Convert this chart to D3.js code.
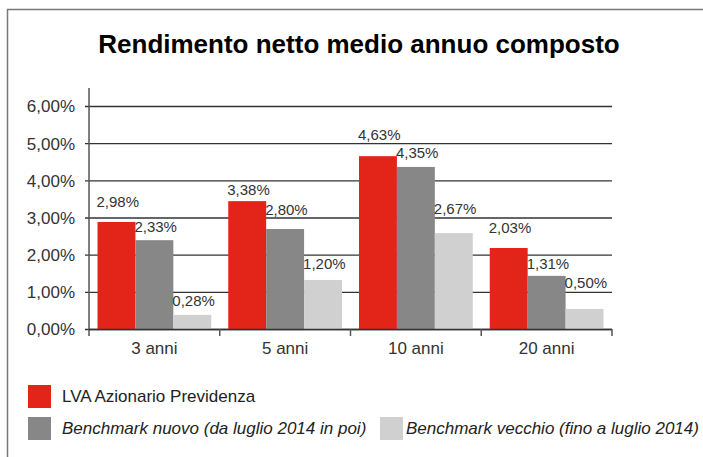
<!DOCTYPE html>
<meta charset="utf-8">
<script src="https://d3js.org/d3.v7.min.js"></script>
<style>
  body { margin: 0; background: #fff; }
  text { font-family: "Liberation Sans", Arial, sans-serif; }
</style>
<div id="chart"></div>
<script>
// categories and series
var categories = ["3 anni", "5 anni", "10 anni", "20 anni"];
var seriesNames = ["LVA Azionario Previdenza", "Benchmark nuovo (da luglio 2014 in poi)", "Benchmark vecchio (fino a luglio 2014)"];
// bar heights as drawn in the picture
var lvaValues = [2.88, 3.44, 4.65, 2.18];
var nuovoValues = [2.39, 2.69, 4.36, 1.43];
var vecchioValues = [0.38, 1.32, 2.58, 0.54];
// printed value labels
var lvaLabels = ["2,98%", "3,38%", "4,63%", "2,03%"];
var nuovoLabels = ["2,33%", "2,80%", "4,35%", "1,31%"];
var vecchioLabels = ["0,28%", "1,20%", "2,67%", "0,50%"];
// y ticks
var yTicks = [0, 1, 2, 3, 4, 5, 6];
var yTickLabels = ["0,00%", "1,00%", "2,00%", "3,00%", "4,00%", "5,00%", "6,00%"];

var colors = ["#e32418", "#878787", "#d0d0d0"];

var W = 703, H = 457;
var svg = d3.select("#chart").append("svg")
    .attr("width", W)
    .attr("height", H);

// outer frame (left and top edges)
svg.append("path")
    .attr("d", "M7.5," + H + "V9.5H" + W)
    .attr("fill", "none")
    .attr("stroke", "#777")
    .attr("stroke-width", 1.5);

// title
svg.append("text")
    .attr("x", 359)
    .attr("y", 53)
    .attr("text-anchor", "middle")
    .style("font-size", "26px")
    .style("font-weight", "bold")
    .attr("fill", "#000")
    .text("Rendimento netto medio annuo composto");

var plotLeft = 89, plotRight = 612, plotTop = 106, plotBottom = 329;

var y = d3.scaleLinear().domain([0, 6]).range([plotBottom, plotTop]);
var x0 = d3.scaleBand().domain(categories).range([plotLeft, plotRight])
    .paddingInner(0.13).paddingOuter(0.065);
var x1 = d3.scaleBand().domain([0, 1, 2]).range([0, x0.bandwidth()]);

// gridlines
svg.append("g").selectAll("line")
  .data(yTicks)
  .enter().append("line")
    .attr("x1", plotLeft - 4)
    .attr("x2", plotRight)
    .attr("y1", function(d) { return y(d) + 0.5; })
    .attr("y2", function(d) { return y(d) + 0.5; })
    .attr("stroke", "#333")
    .attr("stroke-width", 1.3);

// y axis labels
var yAxis = svg.append("g")
    .attr("transform", "translate(" + plotLeft + ",0.5)")
    .call(d3.axisLeft(y).tickValues(yTicks)
      .tickFormat(function(d, i) { return yTickLabels[i]; })
      .tickSize(0).tickPadding(14));
yAxis.select(".domain").remove();
yAxis.selectAll("text")
    .style("font-size", "17px")
    .style("font-family", "'Liberation Sans', Arial, sans-serif")
    .attr("fill", "#333");

// bars
var rows = categories.map(function(c, i) {
  return [
    {cat: c, s: 0, v: lvaValues[i], label: lvaLabels[i]},
    {cat: c, s: 1, v: nuovoValues[i], label: nuovoLabels[i]},
    {cat: c, s: 2, v: vecchioValues[i], label: vecchioLabels[i]}
  ];
});

var groups = svg.append("g").selectAll("g")
  .data(rows)
  .enter().append("g")
    .attr("transform", function(d, i) { return "translate(" + x0(categories[i]) + ",0)"; });

groups.selectAll("rect")
  .data(function(d) { return d; })
  .enter().append("rect")
    .attr("x", function(d) { return x1(d.s); })
    .attr("width", x1.bandwidth())
    .attr("y", function(d) { return y(d.v); })
    .attr("height", function(d) { return y(0) - y(d.v); })
    .attr("fill", function(d) { return colors[d.s]; });

// keep value labels off the gridlines: nudge to nearest free side
function labelCenter(v) {
  var barTop = y(v), c = barTop - 20;
  yTicks.forEach(function(t) {
    var ly = y(t);
    if (Math.abs(c - ly) < 8) {
      var above = ly - 9, below = ly + 9;
      var belowOk = below + 5 <= barTop - 2;
      c = (belowOk && Math.abs(below - c) < Math.abs(above - c)) ? below : above;
    }
  });
  return c;
}

groups.selectAll("text")
  .data(function(d) { return d; })
  .enter().append("text")
    .attr("x", function(d) { return x1(d.s) - 1; })
    .attr("y", function(d) { return labelCenter(d.v) + 5.5; })
    .style("font-size", "15px")
    .attr("fill", "#333")
    .text(function(d) { return d.label; });

// y axis line
svg.append("line")
    .attr("x1", plotLeft).attr("x2", plotLeft)
    .attr("y1", 88).attr("y2", plotBottom + 7)
    .attr("stroke", "#555")
    .attr("stroke-width", 1.5);

// base line and x ticks at category boundaries
svg.append("line")
    .attr("x1", plotLeft).attr("x2", plotRight)
    .attr("y1", plotBottom + 0.5).attr("y2", plotBottom + 0.5)
    .attr("stroke", "#333")
    .attr("stroke-width", 1.5);

var bounds = categories.map(function(c) { return x0(c) - x0.step() * 0.065; });
bounds.push(plotRight);
svg.append("g").selectAll("line")
  .data(bounds.slice(1))
  .enter().append("line")
    .attr("x1", function(d) { return d; })
    .attr("x2", function(d) { return d; })
    .attr("y1", plotBottom)
    .attr("y2", plotBottom + 7)
    .attr("stroke", "#555")
    .attr("stroke-width", 1.5);

// category labels
svg.append("g").selectAll("text")
  .data(categories)
  .enter().append("text")
    .attr("x", function(d) { return x0(d) + x0.bandwidth() / 2; })
    .attr("y", 354)
    .attr("text-anchor", "middle")
    .style("font-size", "17px")
    .attr("fill", "#333")
    .text(function(d) { return d; });

// legend
var legendPos = [[28, 385], [28, 417], [380, 417]];
var legend = svg.append("g").selectAll("g")
  .data(seriesNames)
  .enter().append("g")
    .attr("transform", function(d, i) { return "translate(" + legendPos[i][0] + "," + legendPos[i][1] + ")"; });

legend.append("rect")
    .attr("width", 23)
    .attr("height", 23)
    .attr("fill", function(d, i) { return colors[i]; });

legend.append("text")
    .attr("x", function(d, i) { return i === 2 ? 26 : 34; })
    .attr("y", 17)
    .style("font-size", "17px")
    .style("font-style", function(d, i) { return i === 0 ? "normal" : "italic"; })
    .attr("fill", "#222")
    .text(function(d) { return d; });
</script>
